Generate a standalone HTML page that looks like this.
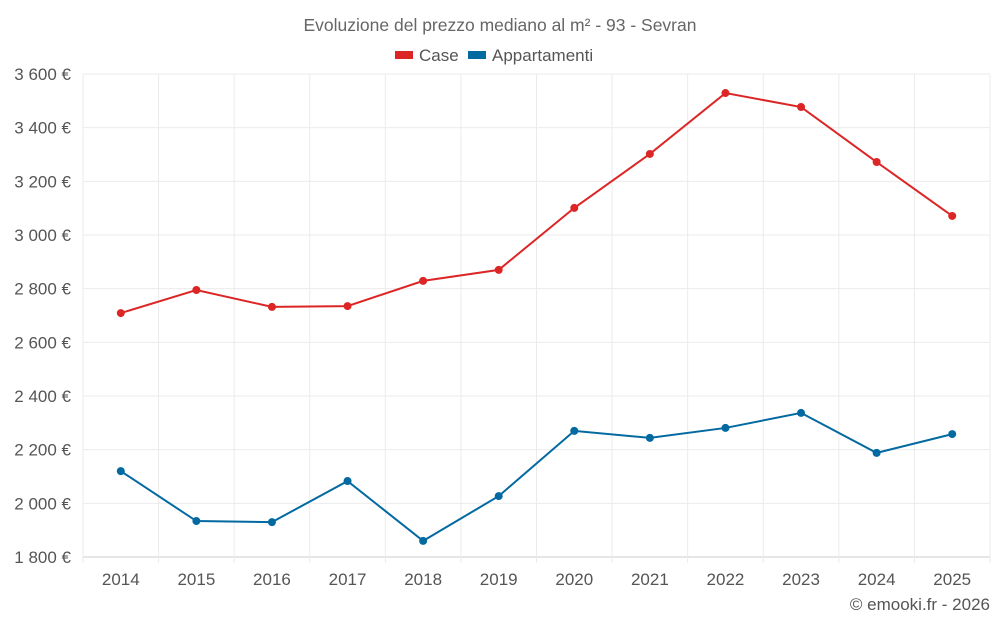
<!DOCTYPE html>
<html><head><meta charset="utf-8"><style>
body{margin:0;background:#fff;font-family:"Liberation Sans",sans-serif}
svg text{font-family:"Liberation Sans",sans-serif}
</style></head><body>
<svg id="c" width="1000" height="625">
<text x="500" y="31" text-anchor="middle" font-size="17.5" fill="#666">Evoluzione del prezzo mediano al m² - 93 - Sevran</text>
<g>
<g><rect x="395" y="51" width="18" height="8" fill="#dc2626"/><text x="419" y="61" font-size="17" fill="#555">Case</text></g>
<g><rect x="468" y="51" width="18" height="8" fill="#0369a1"/><text x="492" y="61" font-size="17" fill="#555">Appartamenti</text></g>
</g>
<g id="grid"></g><g id="axes"></g><g id="series"></g>
<text x="990" y="610" text-anchor="end" font-size="17" fill="#555">© emooki.fr - 2026</text>
</svg>
<script>
const years=["2014","2015","2016","2017","2018","2019","2020","2021","2022","2023","2024","2025"];
const caseVals=[2709,2795,2732,2735,2829,2870,3101,3302,3529,3477,3272,3071];
const apptVals=[2120,1934,1930,2083,1860,2027,2270,2244,2281,2337,2188,2258];
const yTicks=[1800,2000,2200,2400,2600,2800,3000,3200,3400,3600];
const NS="http://www.w3.org/2000/svg";
const L=83,R=990,T=74,B=557,yMin=1800,yMax=3600;
const step=(R-L)/years.length;
const x=i=>L+step*(i+0.5);
const y=v=>B-(v-yMin)/(yMax-yMin)*(B-T);
function mk(tag,attrs,parent){const e=document.createElementNS(NS,tag);for(const k in attrs)e.setAttribute(k,attrs[k]);parent.appendChild(e);return e;}
const grid=document.getElementById('grid'),axes=document.getElementById('axes'),ser=document.getElementById('series');
yTicks.forEach(t=>{
 const g=mk('line',{x1:L,x2:R,y1:y(t),y2:y(t),stroke:t===yMin?'#ccc':'#ebebeb'},grid);
 
 
 const s=t.toString();const lab=s.slice(0,s.length-3)+" "+s.slice(-3)+" €";
 const tx=mk('text',{x:L-12,y:y(t)+6,'text-anchor':'end','font-size':17,fill:'#555'},axes);
 tx.textContent=lab;
 
 
});
for(let i=0;i<=years.length;i++){
 const g=mk('line',{x1:L+step*i,x2:L+step*i,y1:T,y2:B+6,stroke:'#ebebeb'},grid);
 
 
}
years.forEach((yr,i)=>{
 const tx=mk('text',{x:x(i),y:585,'text-anchor':'middle','font-size':17,fill:'#555'},axes);
 tx.textContent=yr;
 
 
});
function series(vals,color,name){
 const p=mk('polyline',{points:vals.map((v,i)=>x(i)+','+y(v)).join(' '),fill:'none',stroke:color,'stroke-width':2},ser);
 
 
 vals.forEach((v,i)=>{
  const c=mk('circle',{cx:x(i),cy:y(v),r:4,fill:color},ser);
  
  
 });
}
series(caseVals,'#dc2626','case');
series(apptVals,'#0369a1','appartamenti');
</script>
</body></html>
